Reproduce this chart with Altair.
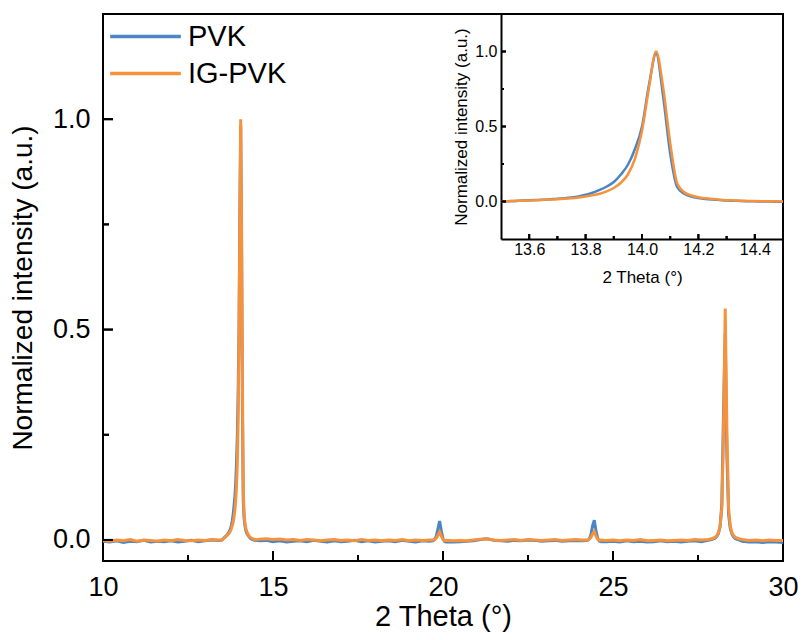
import altair as alt
import pandas as pd

FONT = "Liberation Sans"

# ---------------- data ----------------
two_theta = [
    10.0, 10.2, 10.4, 10.6, 10.8, 11.0, 11.2, 11.4, 11.6, 11.8, 12.0, 12.2, 12.4, 12.6, 12.8, 13.0, 13.2, 13.4,
    13.500, 13.525, 13.550, 13.575, 13.600, 13.625, 13.650, 13.675, 13.700, 13.725, 13.750, 13.775, 13.800,
    13.825, 13.850, 13.875, 13.900, 13.925, 13.950, 13.975, 14.000, 14.025, 14.050, 14.075, 14.100, 14.125,
    14.150, 14.175, 14.200, 14.225, 14.250, 14.275, 14.300, 14.325, 14.350, 14.375, 14.400, 14.425, 14.450,
    14.475, 14.500,
    14.6, 14.8, 15.0, 15.2, 15.4, 15.6, 15.8, 16.0, 16.2, 16.4, 16.6, 16.8, 17.0, 17.2, 17.4, 17.6, 17.8,
    18.0, 18.2, 18.4, 18.6, 18.8, 19.0, 19.2, 19.4, 19.6,
    19.7, 19.75, 19.8, 19.85, 19.9, 19.95, 20.0, 20.05, 20.1,
    20.3, 20.5, 20.7, 20.9, 21.1, 21.3, 21.5, 21.7, 21.9, 22.1, 22.3, 22.5, 22.7, 22.9, 23.1, 23.3, 23.5,
    23.7, 23.9, 24.1,
    24.25, 24.3, 24.35, 24.4, 24.45, 24.5, 24.55, 24.6, 24.65,
    24.8, 25.0, 25.2, 25.4, 25.6, 25.8, 26.0, 26.2, 26.4, 26.6, 26.8, 27.0, 27.2, 27.4, 27.6, 27.8,
    27.9, 28.0, 28.05, 28.1, 28.15, 28.2, 28.25, 28.3, 28.35, 28.4, 28.45, 28.5, 28.55, 28.6, 28.7,
    28.8, 29.0, 29.2, 29.4, 29.6, 29.8, 30.0,
]

pvk = [
    -0.003, -0.005, -0.002, -0.006, -0.003, -0.004, -0.001, -0.005, -0.003, -0.004, -0.002, -0.005, -0.003,
    -0.001, -0.004, -0.002, 0.000, -0.001,
    0.000, 0.002, 0.004, 0.006, 0.008, 0.010, 0.012, 0.015, 0.018, 0.022, 0.027, 0.034, 0.045,
    0.058, 0.078, 0.100, 0.130, 0.180, 0.245, 0.350, 0.500, 0.780, 0.985, 0.700, 0.320, 0.095,
    0.052, 0.033, 0.023, 0.017, 0.013, 0.010, 0.007, 0.005, 0.003, 0.002, 0.001, 0.000, 0.000,
    -0.001, -0.001,
    -0.002, -0.001, -0.004, -0.002, -0.005, -0.003, -0.002, -0.004, -0.001, -0.003, -0.005, -0.002, -0.004,
    -0.003, -0.001, -0.004, -0.002, -0.005, -0.003, -0.002, -0.004, -0.001, -0.003, -0.005, -0.002, -0.003,
    -0.002, 0.001, 0.008, 0.026, 0.045, 0.022, 0.003, -0.004, -0.005,
    -0.005, -0.004, -0.003, -0.002, 0.001, 0.003, -0.001, -0.002, -0.003, -0.001, -0.002, 0.000, -0.001,
    -0.003, -0.002, -0.001, -0.003, -0.002, -0.001, -0.002,
    -0.001, 0.002, 0.012, 0.034, 0.047, 0.021, 0.004, -0.003, -0.004,
    -0.004, -0.003, -0.005, -0.002, -0.004, -0.003, -0.005, -0.004, -0.002, -0.004, -0.003, -0.005, -0.003,
    -0.002, -0.004, -0.001,
    0.001, 0.004, 0.008, 0.015, 0.032, 0.085, 0.300, 0.490, 0.200, 0.060, 0.027, 0.014, 0.007, 0.003, 0.000,
    -0.003, -0.005, -0.004, -0.006, -0.004, -0.005, -0.006,
]

ig_pvk = [
    -0.001, -0.003, 0.000, -0.002, 0.001, -0.003, 0.000, -0.001, -0.003, 0.000, -0.002, 0.001, -0.001,
    -0.002, 0.000, -0.001, 0.001, 0.000,
    0.000, 0.002, 0.004, 0.005, 0.007, 0.009, 0.011, 0.013, 0.015, 0.018, 0.022, 0.027, 0.033,
    0.041, 0.052, 0.068, 0.090, 0.125, 0.180, 0.285, 0.470, 0.760, 1.000, 0.760, 0.390, 0.120,
    0.062, 0.040, 0.028, 0.021, 0.016, 0.012, 0.009, 0.007, 0.005, 0.004, 0.003, 0.002, 0.001,
    0.001, 0.000,
    0.002, 0.003, 0.001, 0.002, 0.000, 0.001, -0.001, 0.001, 0.000, -0.002, 0.000, 0.001, -0.001,
    0.000, -0.002, 0.001, -0.001, 0.000, -0.002, 0.000, -0.001, 0.001, -0.002, 0.000, -0.001, 0.000,
    0.000, 0.001, 0.004, 0.011, 0.019, 0.009, 0.001, -0.002, -0.001,
    -0.002, -0.001, -0.002, 0.000, 0.002, 0.003, 0.000, -0.001, 0.000, 0.001, -0.001, 0.001, 0.000,
    -0.001, 0.000, 0.001, -0.001, 0.000, 0.001, 0.000,
    0.000, 0.002, 0.006, 0.014, 0.020, 0.009, 0.002, -0.001, 0.000,
    -0.001, 0.000, -0.002, 0.000, -0.001, 0.001, -0.002, -0.001, 0.000, -0.002, -0.001, 0.000, -0.001,
    0.001, 0.000, 0.001,
    0.003, 0.006, 0.010, 0.017, 0.032, 0.075, 0.250, 0.550, 0.260, 0.075, 0.032, 0.017, 0.010, 0.006, 0.003,
    0.001, -0.001, 0.000, -0.002, 0.000, -0.001, -0.001,
]

series_names = ["PVK", "IG-PVK"]
series_colors = ["#4a86c6", "#f7923c"]

main_x_domain = [10, 30]
main_y_domain = [-0.05, 1.25]
main_x_ticks = [10, 15, 20, 25, 30]
main_x_minor = [12.5, 17.5, 22.5, 27.5]
main_y_ticks = [0.0, 0.5, 1.0]
main_y_minor = [0.25, 0.75]

inset_x_domain = [13.5, 14.5]
inset_y_domain = [-0.25, 1.25]
inset_x_ticks = [13.6, 13.8, 14.0, 14.2, 14.4]
inset_x_minor = [13.7, 13.9, 14.1, 14.3]
inset_y_ticks = [0.0, 0.5, 1.0]
inset_y_minor = [0.25, 0.75]

# ---------------- layout (pixels) ----------------
W, H = 680, 547
INSET_LEFT = 398      # inset left edge inside the plot area
INSET_BOTTOM = 225    # inset bottom edge inside the plot area
MAJ, MIN = 10, 6      # main tick lengths (inward, px)
IMAJ, IMIN = 5, 3     # inset tick lengths (inward, px)
IW, IH = W - INSET_LEFT, INSET_BOTTOM

rows = []
for name, vals in zip(series_names, [pvk, ig_pvk]):
    for x, y in zip(two_theta, vals):
        rows.append({"theta": x, "intensity": y, "series": name})
df = pd.DataFrame(rows)
inset_df = df[(df.theta >= inset_x_domain[0]) & (df.theta <= inset_x_domain[1])]

color_scale = alt.Scale(domain=series_names, range=series_colors)


def px_to_units(px, domain, span_px):
    return px * (domain[1] - domain[0]) / span_px


def tick_layers(xs_major, xs_minor, ys_major, ys_minor, x_dom, y_dom, w_px, h_px,
                maj_px, min_px, x_scale, x_axis, y_scale, y_axis):
    """Inward tick marks along the bottom and left edges, drawn through the panel's scales."""
    segs = []
    singles = []
    k = 0
    for vals, px in ((xs_major, maj_px), (xs_minor, min_px)):
        lo = y_dom[0]
        hi = lo + px_to_units(px, y_dom, h_px)
        for v in vals:
            segs += [{"theta": v, "intensity": lo, "seg": k, "o": 0},
                     {"theta": v, "intensity": hi, "seg": k, "o": 1}]
            singles.append(("x", v, lo, hi))
            k += 1
    for vals, px in ((ys_major, maj_px), (ys_minor, min_px)):
        lo = x_dom[0]
        hi = lo + px_to_units(px, x_dom, w_px)
        for v in vals:
            segs += [{"theta": lo, "intensity": v, "seg": k, "o": 0},
                     {"theta": hi, "intensity": v, "seg": k, "o": 1}]
            singles.append(("y", v, lo, hi))
            k += 1
    layers = [
        alt.Chart(pd.DataFrame(segs)).mark_line(color="black", strokeWidth=2).encode(
            x=alt.X("theta:Q", scale=x_scale, axis=x_axis),
            y=alt.Y("intensity:Q", scale=y_scale, axis=y_axis),
            detail="seg:N",
            order="o:Q",
        )
    ]
    for kind, v, lo, hi in singles:
        if kind == "x":
            d = pd.DataFrame({"tick": [v], "a": [lo], "b": [hi]})
            layers.append(alt.Chart(d).mark_rule(color="black", strokeWidth=2).encode(
                x=alt.X("tick:Q", scale=x_scale, axis=x_axis),
                y=alt.Y("a:Q", scale=y_scale, axis=y_axis), y2="b:Q"))
        else:
            d = pd.DataFrame({"tick": [v], "a": [lo], "b": [hi]})
            layers.append(alt.Chart(d).mark_rule(color="black", strokeWidth=2).encode(
                y=alt.Y("tick:Q", scale=y_scale, axis=y_axis),
                x=alt.X("a:Q", scale=x_scale, axis=x_axis), x2="b:Q"))
    return layers


# ---------------- main panel ----------------
mx_scale = alt.Scale(domain=main_x_domain, nice=False, zero=False)
my_scale = alt.Scale(domain=main_y_domain, nice=False, zero=False)
mx_axis = alt.Axis(orient="bottom", values=main_x_ticks, format="d", ticks=False, domain=False,
                   labelFontSize=27, labelPadding=13, labelFlush=False, labelOverlap=False,
                   title="2 Theta (°)", titleFontSize=29, titlePadding=2)
my_axis = alt.Axis(orient="left", values=main_y_ticks, format=".1f", ticks=False, domain=False,
                   labelFontSize=27, labelPadding=13, labelFlush=False, labelOverlap=False,
                   title="Normalized intensity (a.u.)", titleFontSize=28, titlePadding=15)

main_lines = alt.Chart(df).mark_line(strokeWidth=3, clip=True).encode(
    x=alt.X("theta:Q", scale=mx_scale, axis=mx_axis),
    y=alt.Y("intensity:Q", scale=my_scale, axis=my_axis),
    color=alt.Color("series:N", scale=color_scale,
                    legend=alt.Legend(title=None, orient="none", legendX=23, legendY=3,
                                      symbolType="M-2,0H2", symbolSize=1250, symbolStrokeWidth=3.5,
                                      labelFontSize=29, labelFont=FONT, labelColor="black",
                                      labelOffset=23, rowPadding=2)),
)

main = alt.layer(
    main_lines,
    *tick_layers(main_x_ticks, main_x_minor, main_y_ticks, main_y_minor,
                 main_x_domain, main_y_domain, W, H, MAJ, MIN,
                 mx_scale, mx_axis, my_scale, my_axis),
)

# ---------------- inset panel ----------------
ix_scale = alt.Scale(domain=inset_x_domain, range=[INSET_LEFT, W], nice=False, zero=False)
iy_scale = alt.Scale(domain=inset_y_domain, range=[INSET_BOTTOM, 0], nice=False, zero=False)
ix_axis = alt.Axis(orient="bottom", values=inset_x_ticks, format=".1f", ticks=False,
                   offset=INSET_BOTTOM - H, domain=True, domainColor="black", domainWidth=2,
                   labelFontSize=16, labelPadding=2, labelFlush=False, labelOverlap=False,
                   title="2 Theta (°)", titleFontSize=17, titlePadding=12)
iy_axis = alt.Axis(orient="left", values=inset_y_ticks, format=".1f", ticks=False,
                   offset=-INSET_LEFT, domain=True, domainColor="black", domainWidth=2,
                   labelFontSize=16, labelPadding=4, labelFlush=False, labelOverlap=False,
                   title="Normalized intensity (a.u.)", titleFontSize=17, titlePadding=4)

inset_lines = alt.Chart(inset_df).mark_line(strokeWidth=2.5, interpolate="monotone").encode(
    x=alt.X("theta:Q", scale=ix_scale, axis=ix_axis),
    y=alt.Y("intensity:Q", scale=iy_scale, axis=iy_axis),
    color=alt.Color("series:N", scale=color_scale, legend=None),
)

inset = alt.layer(
    inset_lines,
    *tick_layers(inset_x_ticks, inset_x_minor, inset_y_ticks, inset_y_minor,
                 inset_x_domain, inset_y_domain, IW, IH, IMAJ, IMIN,
                 ix_scale, ix_axis, iy_scale, iy_axis),
)

chart = alt.layer(main, inset).resolve_scale(
    x="independent", y="independent"
).properties(
    width=W, height=H,
    autosize=alt.AutoSizeParams(type="none"),
    padding={"left": 103, "top": 14, "right": 21, "bottom": 79},
    background="white",
).configure_view(
    stroke="black", strokeWidth=2
).configure_axis(
    labelFont=FONT, titleFont=FONT, labelColor="black", titleColor="black",
    titleFontWeight="normal", grid=False,
)

chart.save("out.html", embed_options={"renderer": "svg", "actions": False})
